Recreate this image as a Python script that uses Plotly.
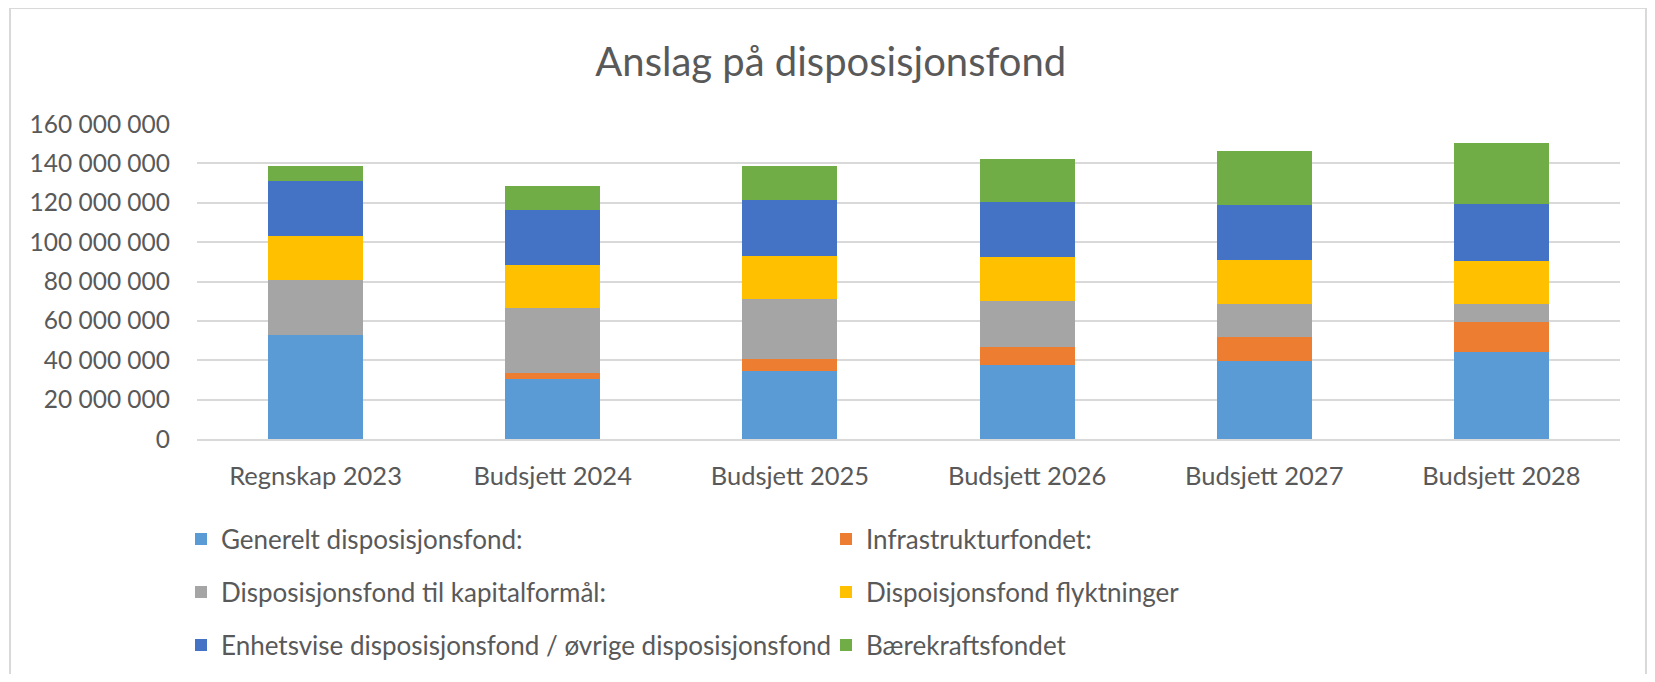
import plotly.graph_objects as go

categories = ["Regnskap 2023", "Budsjett 2024", "Budsjett 2025", "Budsjett 2026", "Budsjett 2027", "Budsjett 2028"]

generelt = [52.7e6, 30.7e6, 34.4e6, 37.6e6, 39.7e6, 44.1e6]
infrastruktur = [0, 3.0e6, 6.0e6, 8.9e6, 12.2e6, 15.4e6]
kapital = [28.0e6, 32.7e6, 30.5e6, 23.6e6, 16.8e6, 9.2e6]
flyktninger = [22.2e6, 22.0e6, 22.1e6, 22.2e6, 22.1e6, 21.9e6]
enhetsvise = [28.1e6, 28.1e6, 28.3e6, 28.1e6, 27.9e6, 28.9e6]
baerekraft = [7.6e6, 12.2e6, 17.3e6, 21.9e6, 27.5e6, 31.1e6]

series = [
    ("Generelt disposisjonsfond:", generelt, "#5B9BD5", "legend"),
    ("Infrastrukturfondet:", infrastruktur, "#ED7D31", "legend"),
    ("Disposisjonsfond til kapitalformål:", kapital, "#A5A5A5", "legend2"),
    ("Dispoisjonsfond flyktninger", flyktninger, "#FFC000", "legend2"),
    ("Enhetsvise disposisjonsfond / øvrige disposisjonsfond", enhetsvise, "#4472C4", "legend3"),
    ("Bærekraftsfondet", baerekraft, "#70AD47", "legend3"),
]

FONT = "Lato, 'Open Sans', sans-serif"
TXT = "#595959"

fig = go.Figure()
for name, vals, color, lg in series:
    fig.add_trace(go.Bar(
        x=categories, y=vals, name=name, marker_color=color,
        marker_line_width=0, legend=lg,
    ))

# figure sized to fit inside the page (body has an 8px margin)
W, H = 1639, 666
L, R, T, B = 189, 27, 116, 235
pw, ph = W - L - R, H - T - B

def px_to_paper_x(px):
    return (px - L) / pw

def px_to_paper_y(py):
    return (H - B - py) / ph

legend_common = dict(
    orientation="h", xanchor="left", yanchor="middle",
    x=px_to_paper_x(173), font=dict(family=FONT, size=26, color=TXT),
    entrywidth=600, entrywidthmode="pixels", bgcolor="rgba(0,0,0,0)",
    itemclick=False, traceorder="normal",
)

fig.update_layout(
    width=W, height=H,
    margin=dict(l=L, r=R, t=T, b=B, autoexpand=False),
    paper_bgcolor="white", plot_bgcolor="white",
    barmode="stack", bargap=0.6,
    separators=", ",
    font=dict(family=FONT, color=TXT),
    title=dict(text="Anslag på disposisjonsfond", x=0.502, xref="container", xanchor="center",
               y=1 - 54 / H, yref="container", yanchor="middle",
               font=dict(family=FONT, size=40, color=TXT)),
    legend=dict(legend_common, y=px_to_paper_y(531)),
    legend2=dict(legend_common, y=px_to_paper_y(584)),
    legend3=dict(legend_common, y=px_to_paper_y(637)),
    yaxis=dict(range=[0, 160e6], dtick=20e6, tick0=0, tickformat=",.0f",
               showgrid=True, gridcolor="#D9D9D9", gridwidth=2,
               zeroline=False, showline=False, ticks="",
               ticklabelstandoff=26,
               tickfont=dict(family=FONT, size=24.5, color=TXT)),
    xaxis=dict(showline=True, linecolor="#D9D9D9", linewidth=2, ticks="",
               ticklabelstandoff=13,
               tickfont=dict(family=FONT, size=25.5, color=TXT)),
    showlegend=True,
)

# outer chart border
fig.add_shape(type="rect", xref="paper", yref="paper",
              x0=px_to_paper_x(2), x1=px_to_paper_x(W - 1),
              y0=px_to_paper_y(H + 20), y1=px_to_paper_y(0),
              line=dict(color="#D9D9D9", width=2), layer="below")

fig.write_html("out.html")
